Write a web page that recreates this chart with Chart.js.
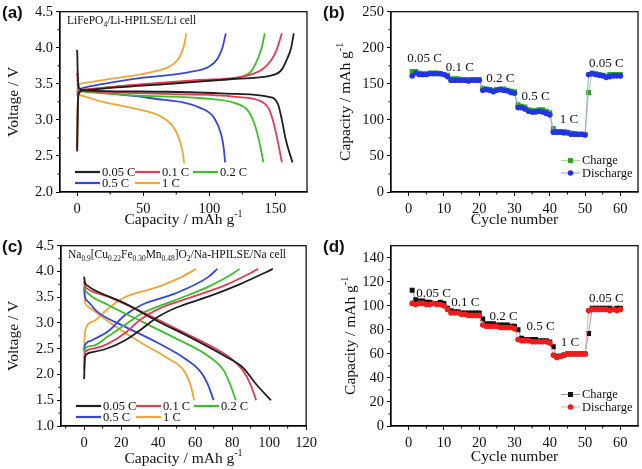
<!DOCTYPE html>
<html>
<head>
<meta charset="utf-8">
<script src="https://cdn.jsdelivr.net/npm/chart.js@4/dist/chart.umd.min.js"></script>
<style>
  body { margin: 0; background: #fff; width: 642px; height: 469px; position: relative; overflow: hidden; }
  .panel { position: absolute; }
</style>
</head>
<body>
<div class="panel" style="left:0;top:0;width:321px;height:234px"><canvas id="pa"></canvas></div>
<div class="panel" style="left:321px;top:0;width:321px;height:234px"><canvas id="pb"></canvas></div>
<div class="panel" style="left:0;top:234px;width:321px;height:235px"><canvas id="pc"></canvas></div>
<div class="panel" style="left:321px;top:234px;width:321px;height:235px"><canvas id="pd"></canvas></div>
<script>
// ---- data ----
const rateLabels = ["0.05 C", "0.1 C", "0.2 C", "0.5 C", "1 C"];
const rateColors = ["#1e1e1e", "#e63a55", "#3cbf2a", "#3347dc", "#f4a336"];

// (a) LiFePO4 cell, [capacity, voltage]
const liCharge = [
  [[0, 2.56], [0.4, 3.1], [1.2, 3.37], [5, 3.41], [30, 3.45], [70, 3.5], [120, 3.57], [148, 3.62], [155, 3.7], [159, 3.85], [162, 4.0], [164, 4.2]],
  [[0, 2.6], [0.4, 3.15], [1.2, 3.38], [5, 3.42], [40, 3.48], [90, 3.55], [125, 3.6], [140, 3.7], [147, 3.83], [151, 3.97], [155, 4.2]],
  [[0, 2.62], [0.4, 3.2], [1.2, 3.38], [5, 3.42], [50, 3.49], [94, 3.54], [123, 3.59], [132, 3.68], [137, 3.86], [140, 4.02], [142, 4.2]],
  [[0, 3.34], [1, 3.41], [4, 3.44], [20, 3.5], [43, 3.57], [84, 3.66], [100, 3.74], [106, 3.84], [110, 4.0], [112.5, 4.2]],
  [[0, 3.38], [1, 3.48], [5, 3.51], [25, 3.57], [45, 3.62], [60, 3.68], [70, 3.74], [76, 3.83], [79.5, 3.95], [81.5, 4.08], [82.5, 4.2]]
];
const liDischarge = [
  [[0, 3.97], [0.5, 3.6], [1.5, 3.44], [5, 3.41], [68, 3.39], [120, 3.36], [145, 3.32], [152, 3.22], [155, 3.0], [158, 2.72], [163, 2.41]],
  [[0, 3.65], [0.5, 3.5], [1.5, 3.42], [5, 3.4], [68, 3.36], [120, 3.32], [140, 3.25], [145, 3.16], [149, 2.94], [153, 2.6], [155, 2.41]],
  [[0, 3.5], [0.5, 3.46], [2, 3.41], [10, 3.38], [43, 3.34], [94, 3.3], [120, 3.23], [130, 3.11], [135, 2.9], [139, 2.6], [141, 2.41]],
  [[0, 3.45], [1, 3.43], [5, 3.41], [17, 3.38], [56, 3.3], [94, 3.16], [104, 3.02], [109, 2.8], [111, 2.6], [112, 2.41]],
  [[0, 3.4], [1, 3.36], [5, 3.33], [17, 3.26], [43, 3.16], [63, 3.05], [72, 2.92], [77, 2.75], [79.5, 2.58], [81, 2.4]]
];

// (c) Na cell, [capacity, voltage]
const naCharge = [
  [[0, 1.91], [0.3, 2.25], [1, 2.38], [4, 2.43], [12, 2.5], [22, 2.66], [31, 2.88], [40, 3.12], [50, 3.3], [67, 3.51], [84, 3.75], [98, 3.98], [102, 4.05]],
  [[0, 2.1], [0.3, 2.35], [1, 2.45], [5, 2.5], [13, 2.6], [22, 2.8], [31, 3.08], [40, 3.27], [58, 3.5], [76, 3.73], [90, 3.97], [94, 4.05]],
  [[0, 2.3], [0.3, 2.45], [1, 2.52], [5, 2.56], [13, 2.74], [22, 2.96], [31, 3.18], [49, 3.44], [67, 3.7], [80, 3.95], [84, 4.05]],
  [[0, 2.45], [0.3, 2.55], [1, 2.6], [4, 2.66], [13, 2.84], [22, 3.15], [31, 3.35], [49, 3.57], [67, 3.89], [72, 4.05]],
  [[0, 2.5], [0.3, 2.75], [1, 2.9], [3, 3.0], [6, 3.05], [13, 3.28], [22, 3.5], [40, 3.7], [52, 3.88], [60.5, 4.05]]
];
const naDischarge = [
  [[0, 3.9], [0.5, 3.78], [2, 3.72], [5, 3.65], [22, 3.38], [40, 3.03], [58, 2.71], [76, 2.36], [86, 2.13], [93, 1.81], [101, 1.5]],
  [[0, 3.82], [0.5, 3.72], [2, 3.66], [13, 3.51], [31, 3.22], [49, 2.9], [67, 2.58], [79, 2.32], [86, 2.07], [90, 1.8], [93, 1.5]],
  [[0, 3.78], [0.5, 3.66], [2, 3.58], [13, 3.35], [31, 3.03], [49, 2.71], [67, 2.36], [75.6, 2.07], [79, 1.8], [82, 1.5]],
  [[0, 3.7], [0.5, 3.5], [2, 3.42], [7, 3.22], [22, 2.93], [40, 2.61], [54, 2.32], [63, 2.05], [67, 1.8], [70, 1.5]],
  [[0, 3.65], [0.5, 3.4], [2, 3.32], [13, 3.03], [31, 2.61], [45, 2.32], [54, 2.07], [57.5, 1.8], [59.5, 1.5]]
];

// (b), (d) rate capability
const cycles = [1, 2, 3, 4, 5, 6, 7, 8, 9, 10, 11, 12, 13, 14, 15, 16, 17, 18, 19, 20,
  21, 22, 23, 24, 25, 26, 27, 28, 29, 30, 31, 32, 33, 34, 35, 36, 37, 38, 39, 40,
  41, 42, 43, 44, 45, 46, 47, 48, 49, 50, 51, 52, 53, 54, 55, 56, 57, 58, 59, 60];
const liRateCharge = [167, 167, 165, 164, 164, 165, 165, 165, 164, 163,
  162, 157, 157, 157, 156, 156, 156, 156, 156, 156,
  144, 143, 142, 141, 142, 143, 143, 141, 140, 139,
  121, 119, 118, 114, 113, 113, 114, 114, 112, 110,
  88, 84, 84, 84, 83, 82, 81, 80, 80, 80,
  138, 165, 164, 163, 162, 161, 163, 163, 163, 163];
const liRateDischarge = [161, 165, 163, 163, 163, 164, 164, 164, 164, 163,
  160, 155, 155, 155, 155, 155, 154, 155, 155, 155,
  141, 142, 141, 139, 141, 142, 141, 140, 138, 137,
  117, 117, 115, 112, 111, 111, 112, 111, 109, 107,
  83, 83, 83, 82, 82, 80, 80, 80, 80, 79,
  163, 164, 163, 162, 161, 159, 160, 161, 161, 161];
const naRateCharge = [113, 105, 104, 104, 103, 103, 102, 102, 103, 102,
  98, 96, 95, 95, 94, 94, 94, 94, 94, 94,
  89, 85, 85, 85, 84, 84, 84, 84, 83, 83,
  80, 73, 72, 72, 72, 72, 71, 71, 71, 70,
  66, 58, 58, 59, 60, 60, 60, 60, 60, 60,
  77, 98, 98, 98, 98, 98, 98, 97, 98, 98];
const naRateDischarge = [102, 101, 102, 102, 101, 101, 102, 101, 101, 100,
  97, 94, 94, 94, 93, 93, 92, 92, 92, 92,
  84, 83, 83, 83, 83, 82, 82, 82, 82, 81,
  72, 71, 71, 71, 70, 70, 70, 70, 70, 69,
  59, 57, 58, 59, 60, 60, 60, 60, 60, 60,
  96, 97, 97, 97, 97, 97, 96, 97, 96, 97];

// rate labels written on (b) and (d): [text, cycle, capacity]
const liRateNotes = [["0.05 C", 4.5, 185], ["0.1 C", 14.5, 172], ["0.2 C", 26, 157], ["0.5 C", 36, 132], ["1 C", 45.4, 100], ["0.05 C", 56, 178]];
const naRateNotes = [["0.05 C", 7.1, 110], ["0.1 C", 16.1, 103], ["0.2 C", 26.9, 91.4], ["0.5 C", 37.4, 82.6], ["1 C", 45.7, 69], ["0.05 C", 56, 105.8]];

// tick values
const liVoltTicks = [2.0, 2.5, 3.0, 3.5, 4.0, 4.5];
const liCapTicks = [0, 50, 100, 150];
const naVoltTicks = [1.0, 1.5, 2.0, 2.5, 3.0, 3.5, 4.0, 4.5];
const naCapTicks = [0, 20, 40, 60, 80, 100, 120];
const cycleTicks = [0, 10, 20, 30, 40, 50, 60];
const liRateTicks = [0, 50, 100, 150, 200, 250];
const naRateTicks = [0, 20, 40, 60, 80, 100, 120, 140];

// ---- drawing helpers ----
const SERIF = '"Liberation Serif", "Times New Roman", serif';

function rich(ctx, parts, x, y, size, align) {
  const sz = k => (k ? size * 0.65 : size);
  let w = 0;
  parts.forEach(([t, k]) => { ctx.font = sz(k) + 'px ' + SERIF; w += ctx.measureText(t).width; });
  let cx = align === 'center' ? x - w / 2 : x;
  ctx.textAlign = 'left';
  parts.forEach(([t, k]) => {
    ctx.font = sz(k) + 'px ' + SERIF;
    const dy = k === 1 ? size * 0.28 : k === 2 ? -size * 0.38 : 0;
    ctx.fillText(t, cx, y + dy);
    cx += ctx.measureText(t).width;
  });
}

function axis(min, max, ticks, size, isX, digits) {
  return {
    type: 'linear', min: min, max: max,
    afterBuildTicks: s => { s.ticks = ticks.map(v => ({ value: v })); },
    afterFit: s => { if (isX) s.height = size; else s.width = size; },
    grid: { drawOnChartArea: false, drawTicks: true, tickLength: 4, tickColor: '#000', tickWidth: 1 },
    border: { color: '#000', width: 1.2 },
    ticks: {
      font: { family: SERIF, size: 14.5 }, color: '#111', padding: isX ? 4 : 3,
      maxRotation: 0, autoSkip: false,
      callback: v => v.toFixed(digits)
    }
  };
}

const decor = {
  id: 'decor',
  afterDraw(chart, args, o) {
    const { ctx, chartArea: a, scales } = chart;
    ctx.save();
    ctx.strokeStyle = '#000';
    ctx.lineWidth = 1.2;
    ctx.strokeRect(a.left, a.top, a.right - a.left, a.bottom - a.top);
    // minor ticks halfway between majors
    ctx.lineWidth = 1;
    ['x', 'y'].forEach(id => {
      const sc = scales[id];
      const t = sc.ticks.map(k => k.value);
      const step = t[1] - t[0];
      for (let v = t[0] - step / 2; v < sc.max; v += step) {
        if (v <= sc.min) continue;
        const p = sc.getPixelForValue(v);
        ctx.beginPath();
        if (id === 'x') { ctx.moveTo(p, a.bottom); ctx.lineTo(p, a.bottom + 2.5); }
        else { ctx.moveTo(a.left, p); ctx.lineTo(a.left - 2.5, p); }
        ctx.stroke();
      }
    });
    ctx.fillStyle = '#111';
    ctx.textBaseline = 'alphabetic';
    // panel letter
    ctx.font = 'bold 17px "Liberation Sans", Arial, sans-serif';
    ctx.textAlign = 'left';
    ctx.fillText(o.letter, 2, 18);
    // axis titles
    ctx.textBaseline = 'middle';
    rich(ctx, o.xTitle, (a.left + a.right) / 2, o.xTitleY, 15.5, 'center');
    ctx.save();
    ctx.translate(o.yTitleX, (a.top + a.bottom) / 2);
    ctx.rotate(-Math.PI / 2);
    rich(ctx, o.yTitle, 0, 0, 15.5, 'center');
    ctx.restore();
    ctx.textBaseline = 'alphabetic';
    if (o.cell) rich(ctx, o.cell, a.left + 7, a.top + 12.5, 11.5, 'left');
    // curve legend (a)/(c)
    if (o.rateLegend) {
      const cols = [15, 75, 133];
      rateLabels.forEach((lab, i) => {
        const col = cols[i % 3];
        const y = a.bottom - (i < 3 ? 20 : 9);
        ctx.strokeStyle = rateColors[i];
        ctx.lineWidth = 2.2;
        ctx.beginPath();
        ctx.moveTo(a.left + col, y);
        ctx.lineTo(a.left + col + 25, y);
        ctx.stroke();
        ctx.textBaseline = 'middle';
        ctx.font = '12.5px ' + SERIF;
        ctx.fillStyle = '#111';
        ctx.fillText(lab, a.left + col + 27, y + 0.5);
      });
    }
    // rate notes (b)/(d)
    if (o.notes) {
      ctx.textAlign = 'center';
      ctx.textBaseline = 'middle';
      ctx.font = '13px ' + SERIF;
      o.notes.forEach(([t, cx, cy]) => {
        ctx.fillText(t, scales.x.getPixelForValue(cx), scales.y.getPixelForValue(cy));
      });
    }
    // marker legend (b)/(d)
    if (o.markLegend) {
      chart.data.datasets.slice().sort((p, q) => p.legendRow - q.legendRow).forEach((ds, i) => {
        const y = a.bottom - (i === 0 ? 31.5 : 19);
        const x0 = a.right - 77;
        ctx.strokeStyle = ds.borderColor;
        ctx.lineWidth = 1;
        ctx.beginPath();
        ctx.moveTo(x0, y);
        ctx.lineTo(x0 + 19, y);
        ctx.stroke();
        ctx.fillStyle = ds.pointBackgroundColor;
        if (ds.pointStyle === 'rect') ctx.fillRect(x0 + 7, y - 2.5, 5, 5);
        else { ctx.beginPath(); ctx.arc(x0 + 9.5, y, 2.8, 0, Math.PI * 2); ctx.fill(); }
        ctx.fillStyle = '#111';
        ctx.textAlign = 'left';
        ctx.textBaseline = 'middle';
        ctx.font = '12.5px ' + SERIF;
        ctx.fillText(ds.label, x0 + 21, y + 0.5);
      });
    }
    ctx.restore();
  }
};

function curveSets(charge, discharge) {
  const out = [];
  rateLabels.forEach((r, i) => {
    [charge[i], discharge[i]].forEach(pts => out.push({
      label: r,
      data: pts.map(([x, y]) => ({ x: x, y: y })),
      borderColor: rateColors[i], borderWidth: 1.8, pointRadius: 0,
      cubicInterpolationMode: 'monotone', fill: false
    }));
  });
  return out;
}

function rateSets(charge, discharge, cCol, cLine, dCol, dLine) {
  return [
    { label: 'Charge', legendRow: 0, order: 2, data: cycles.map((c, i) => ({ x: c, y: charge[i] })),
      borderColor: cLine, borderWidth: 1, pointStyle: 'rect', pointRadius: 3.5,
      pointBackgroundColor: cCol, pointBorderColor: cCol, pointBorderWidth: 0, tension: 0 },
    { label: 'Discharge', legendRow: 1, order: 1, data: cycles.map((c, i) => ({ x: c, y: discharge[i] })),
      borderColor: dLine, borderWidth: 1, pointStyle: 'circle', pointRadius: 2.8,
      pointBackgroundColor: dCol, pointBorderColor: dCol, pointBorderWidth: 0, tension: 0 }
  ];
}

function make(id, datasets, xAx, yAx, pad, deco) {
  new Chart(document.getElementById(id), {
    type: 'line',
    data: { datasets: datasets },
    options: {
      responsive: true, maintainAspectRatio: false, animation: false, devicePixelRatio: 1,
      layout: { padding: pad },
      scales: { x: xAx, y: yAx },
      plugins: { legend: { display: false }, tooltip: { enabled: false }, decor: deco }
    },
    plugins: [decor]
  });
}

const capTitle = [["Capacity / mAh g", 0], ["-1", 2]];

make('pa', curveSets(liCharge, liDischarge),
  axis(-13, 174, liCapTicks, 42, true, 0), axis(2, 4.5, liVoltTicks, 60, false, 1),
  { left: 0, right: 14, top: 9.5, bottom: 0 },
  { letter: '(a)', xTitle: capTitle, xTitleY: 220, yTitle: [["Voltage / V", 0]], yTitleX: 14, rateLegend: true,
    cell: [["LiFePO", 0], ["4", 1], ["/Li-HPILSE/Li cell", 0]] });

make('pb', rateSets(liRateCharge, liRateDischarge, '#2ea52a', '#a6dc9a', '#2433e6', '#98a0e6'),
  axis(-5, 65, cycleTicks, 42, true, 0), axis(0, 250, liRateTicks, 70, false, 0),
  { left: 0, right: 3, top: 8.5, bottom: 0 },
  { letter: '(b)', xTitle: [["Cycle number", 0]], xTitleY: 220, yTitle: capTitle, yTitleX: 25,
    notes: liRateNotes, markLegend: true });

make('pc', curveSets(naCharge, naDischarge),
  axis(-12.5, 120, naCapTicks, 43, true, 0), axis(1, 4.5, naVoltTicks, 61, false, 1),
  { left: 0, right: 13, top: 9.5, bottom: 0 },
  { letter: '(c)', xTitle: capTitle, xTitleY: 225, yTitle: [["Voltage / V", 0]], yTitleX: 14, rateLegend: true,
    cell: [["Na", 0], ["0.9", 1], ["[Cu", 0], ["0.22", 1], ["Fe", 0], ["0.30", 1], ["Mn", 0], ["0.48", 1], ["]O", 0], ["2", 1], ["/Na-HPILSE/Na cell", 0]] });

make('pd', rateSets(naRateCharge, naRateDischarge, '#111111', '#9a9a9a', '#f01c1c', '#f7a0a8'),
  axis(-5, 65, cycleTicks, 43, true, 0), axis(0, 150, naRateTicks, 70, false, 0),
  { left: 0, right: 3, top: 8.5, bottom: 0 },
  { letter: '(d)', xTitle: [["Cycle number", 0]], xTitleY: 223, yTitle: capTitle, yTitleX: 30,
    notes: naRateNotes, markLegend: true });
</script>
</body>
</html>
